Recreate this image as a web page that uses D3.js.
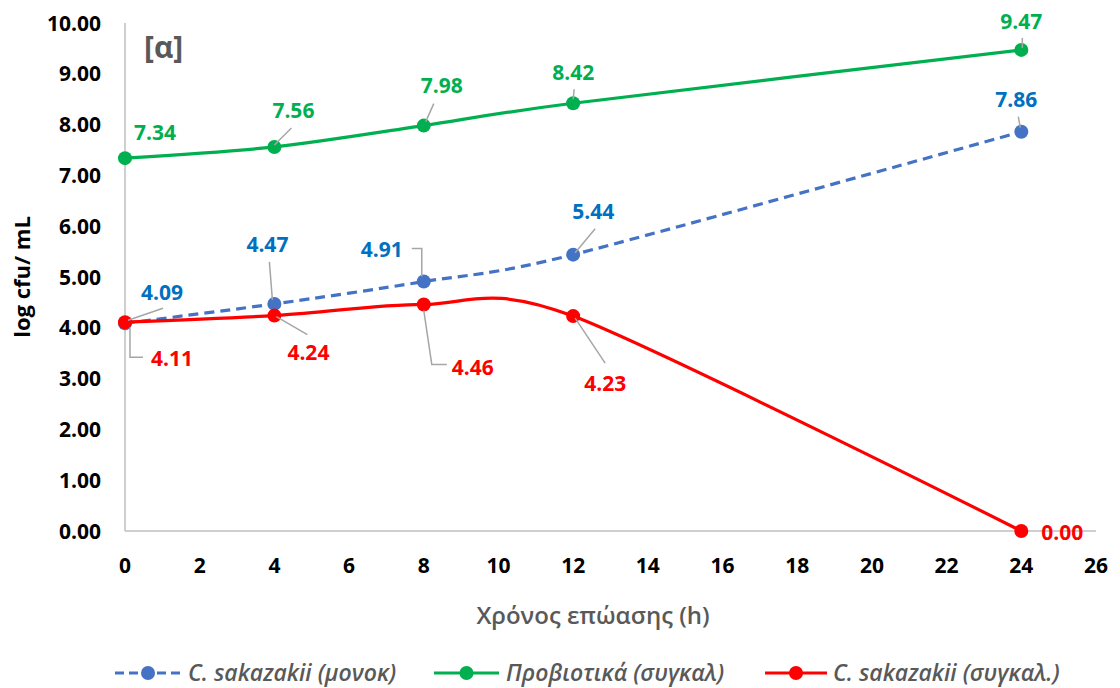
<!DOCTYPE html>
<html>
<head>
<meta charset="utf-8">
<script src="https://cdn.jsdelivr.net/npm/d3@7"></script>
<style>
  body { margin: 0; background: #fff; }
  text { font-family: "Open Sans", "Noto Sans", sans-serif; }
</style>
</head>
<body>
<svg id="chart" width="1120" height="688"></svg>
<script>
const hours = [0, 4, 8, 12, 24];
const sakMono = [4.09, 4.47, 4.91, 5.44, 7.86];
const probiotics = [7.34, 7.56, 7.98, 8.42, 9.47];
const sakCo = [4.11, 4.24, 4.46, 4.23, 0.00];
const xTicks = d3.range(0, 27, 2);
const yTicks = d3.range(0, 11, 1);
const seriesNames = ['C. sakazakii (μονοκ)', 'Προβιοτικά (συγκαλ)', 'C. sakazakii (συγκαλ.)'];

// label placement: text centre offset from the point, leader path (relative)
const labelLayout = {
  mono: [
    { dx: 37, dy: -31, lead: [[3, -3], [38, -15]] },
    { dx: -7, dy: -59, lead: [[-2, -4], [-5, -42]] },
    { dx: -42, dy: -32, lead: [[-2, -5], [-2, -33], [-12, -33]] },
    { dx: 20, dy: -43, lead: [[2, -2], [22, -26]] },
    { dx: -5, dy: -32, lead: [[-1, -4], [-3, -15]] }
  ],
  pro: [
    { dx: 30, dy: -26, lead: null },
    { dx: 19, dy: -37, lead: [[0, -2], [17, -19]] },
    { dx: 18, dy: -40, lead: [[2, -4], [10, -22]] },
    { dx: 0, dy: -31, lead: [[0, -4], [1, -14]] },
    { dx: 0, dy: -28, lead: [[1, -2], [1, -12]] }
  ],
  co: [
    { dx: 47, dy: 36, lead: [[5, 5], [5, 35], [18, 35]] },
    { dx: 34, dy: 37, lead: [[2, 1], [33, 19]] },
    { dx: 49, dy: 63, lead: [[0, 6], [8, 60], [23, 60]] },
    { dx: 32, dy: 67, lead: [[2, 2], [32, 47]] },
    { dx: 41, dy: 1, lead: null }
  ]
};

const svg = d3.select('#chart');
const x = d3.scaleLinear().domain([0, 26]).range([125, 1096]);
const y = d3.scaleLinear().domain([0, 10]).range([531, 23]);

// axes
svg.append('line').attr('x1', x(0)).attr('x2', x(26)).attr('y1', y(0)).attr('y2', y(0))
  .attr('stroke', '#bfbfbf').attr('stroke-width', 1.5);
svg.append('line').attr('x1', x(0)).attr('x2', x(0)).attr('y1', y(0)).attr('y2', y(10))
  .attr('stroke', '#bfbfbf').attr('stroke-width', 1.5);

svg.append('g').selectAll('text').data(yTicks).join('text')
  .attr('x', 101).attr('y', (d) => y(d))
  .attr('dy', '0.36em')
  .attr('text-anchor', 'end')
  .attr('font-size', 21).attr('font-weight', 700).attr('fill', '#000')
  .text((d) => d.toFixed(2));

svg.append('g').selectAll('text').data(xTicks).join('text')
  .attr('x', (d) => x(d)).attr('y', 565)
  .attr('dy', '0.36em')
  .attr('text-anchor', 'middle')
  .attr('font-size', 21).attr('font-weight', 700).attr('fill', '#000')
  .text((d) => d);

svg.append('text')
  .attr('transform', 'translate(30,277) rotate(-90)')
  .attr('text-anchor', 'middle')
  .attr('font-size', 22).attr('font-weight', 700).attr('fill', '#000')
  .text('log cfu/ mL');

svg.append('text')
  .attr('x', 593).attr('y', 624)
  .attr('text-anchor', 'middle')
  .attr('font-size', 24).attr('font-weight', 600).attr('fill', '#595959')
  .text('Χρόνος επώασης (h)');

svg.append('text')
  .attr('x', 144).attr('y', 58)
  .attr('font-size', 30).attr('font-weight', 700).attr('fill', '#595959')
  .text('[α]');

const series = [
  { key: 'mono', values: sakMono, line: '#4472c4', label: '#0070c0', dash: '10,6' },
  { key: 'pro', values: probiotics, line: '#00b050', label: '#00b050', dash: null },
  { key: 'co', values: sakCo, line: '#ff0000', label: '#ff0000', dash: null }
];

const lineGen = d3.line()
  .x((d) => x(d[0]))
  .y((d) => y(d[1]))
  .curve(d3.curveCardinal.tension(0.15));

series.forEach((s) => {
  const pts = hours.map((h, i) => [h, s.values[i]]);
  const g = svg.append('g');
  g.append('path')
    .attr('d', lineGen(pts))
    .attr('fill', 'none')
    .attr('stroke', s.line)
    .attr('stroke-width', 3.2)
    .attr('stroke-dasharray', s.dash);
  g.selectAll('circle').data(pts).join('circle')
    .attr('cx', (d) => x(d[0])).attr('cy', (d) => y(d[1]))
    .attr('r', 7).attr('fill', s.line);
});

// data labels
series.forEach((s) => {
  const layout = labelLayout[s.key];
  hours.forEach((h, i) => {
    const px = x(h);
    const py = y(s.values[i]);
    const l = layout[i];
    if (l.lead) {
      svg.append('polyline')
        .attr('points', l.lead.map((p) => `${px + p[0]},${py + p[1]}`).join(' '))
        .attr('fill', 'none').attr('stroke', '#a6a6a6').attr('stroke-width', 1.5);
    }
    svg.append('text')
      .attr('x', px + l.dx).attr('y', py + l.dy)
      .attr('dy', '0.36em')
      .attr('text-anchor', 'middle')
      .attr('font-size', 21).attr('font-weight', 700).attr('fill', s.label)
      .text(s.values[i].toFixed(2));
  });
});

// legend
const legendItems = [
  { s: series[0], x0: 115, x1: 181, tx: 188 },
  { s: series[1], x0: 434, x1: 499, tx: 506 },
  { s: series[2], x0: 765, x1: 827, tx: 833 }
];
const lg = svg.append('g');
legendItems.forEach((it, i) => {
  const ly = 673;
  lg.append('line').attr('x1', it.x0).attr('x2', it.x1).attr('y1', ly).attr('y2', ly)
    .attr('stroke', it.s.line).attr('stroke-width', 3.2)
    .attr('stroke-dasharray', it.s.dash ? '9,5' : null);
  lg.append('circle').attr('cx', (it.x0 + it.x1) / 2).attr('cy', ly).attr('r', 7)
    .attr('fill', it.s.line);
  lg.append('text').attr('x', it.tx).attr('y', ly)
    .attr('dy', '0.36em')
    .attr('font-size', 23).attr('font-style', 'italic').attr('font-weight', 600)
    .attr('fill', '#595959')
    .text(seriesNames[i]);
});
</script>
</body>
</html>
